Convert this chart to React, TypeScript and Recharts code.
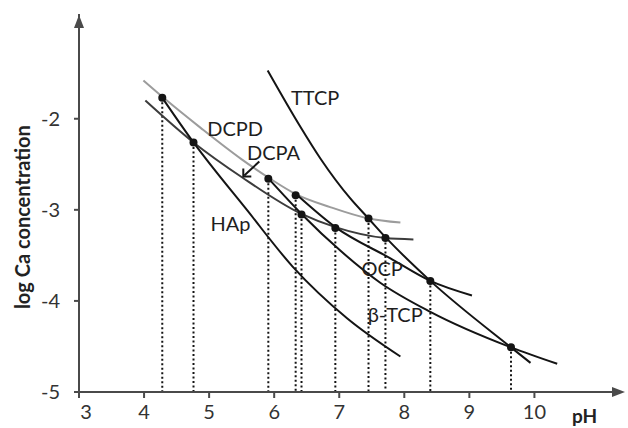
import React from 'react';
import {
  ComposedChart,
  Line,
  Scatter,
  XAxis,
  YAxis,
  ReferenceLine,
  ReferenceDot,
} from 'recharts';

type Pt = { ph: number; ca: number };

// solubility isotherms (pH, log[Ca])
const dcpd: Pt[] = [
  { ph: 3.99, ca: -1.58 },
  { ph: 4.3, ca: -1.77 },
  { ph: 4.87, ca: -2.1 },
  { ph: 5.49, ca: -2.44 },
  { ph: 5.91, ca: -2.645 },
  { ph: 6.34, ca: -2.83 },
  { ph: 6.86, ca: -2.97 },
  { ph: 7.45, ca: -3.095 },
  { ph: 7.94, ca: -3.14 },
];
const dcpa: Pt[] = [
  { ph: 4.02, ca: -1.8 },
  { ph: 4.76, ca: -2.26 },
  { ph: 5.51, ca: -2.645 },
  { ph: 6.42, ca: -3.045 },
  { ph: 6.94, ca: -3.19 },
  { ph: 7.71, ca: -3.31 },
  { ph: 8.14, ca: -3.325 },
];
const hap: Pt[] = [
  { ph: 4.28, ca: -1.77 },
  { ph: 4.76, ca: -2.26 },
  { ph: 5.59, ca: -3.01 },
  { ph: 6.28, ca: -3.62 },
  { ph: 7.12, ca: -4.19 },
  { ph: 7.94, ca: -4.61 },
];
const ttcp: Pt[] = [
  { ph: 5.9, ca: -1.47 },
  { ph: 6.4, ca: -2.085 },
  { ph: 6.71, ca: -2.436 },
  { ph: 7.17, ca: -2.875 },
  { ph: 7.45, ca: -3.095 },
  { ph: 7.71, ca: -3.3 },
  { ph: 8.4, ca: -3.78 },
  { ph: 9.64, ca: -4.51 },
  { ph: 9.94, ca: -4.68 },
];
const ocp: Pt[] = [
  { ph: 6.34, ca: -2.83 },
  { ph: 6.94, ca: -3.19 },
  { ph: 7.78, ca: -3.53 },
  { ph: 8.4, ca: -3.78 },
  { ph: 9.04, ca: -3.94 },
];
const btcp: Pt[] = [
  { ph: 5.91, ca: -2.655 },
  { ph: 6.42, ca: -3.045 },
  { ph: 7.02, ca: -3.45 },
  { ph: 7.63, ca: -3.8 },
  { ph: 8.4, ca: -4.12 },
  { ph: 9.64, ca: -4.51 },
  { ph: 10.35, ca: -4.69 },
];

// singular points (intersections)
const singular: Pt[] = [
  { ph: 4.28, ca: -1.77 },
  { ph: 4.76, ca: -2.26 },
  { ph: 5.91, ca: -2.66 },
  { ph: 6.33, ca: -2.84 },
  { ph: 6.42, ca: -3.05 },
  { ph: 6.94, ca: -3.2 },
  { ph: 7.45, ca: -3.095 },
  { ph: 7.71, ca: -3.31 },
  { ph: 8.4, ca: -3.78 },
  { ph: 9.64, ca: -4.51 },
];

const curveNames = ['TTCP', 'DCPD', 'DCPA', 'HAp', 'OCP', 'β-TCP'];
const namePH = [6.63, 5.4, 5.99, 5.33, 7.66, 7.86];
const nameCa = [-1.76, -2.1, -2.37, -3.14, -3.64, -4.14];

const xTicks = [3, 4, 5, 6, 7, 8, 9, 10];
const yTicks = [-5, -4, -3, -2];

const FONT = 'Lato, "Open Sans", sans-serif';
const INK = '#141414';
const AXIS = '#4a4a4a';

const curves = [
  { key: 'DCPD', data: dcpd, color: '#9c9c9c' },
  { key: 'DCPA', data: dcpa, color: '#3c3c3c' },
  { key: 'HAp', data: hap, color: INK },
  { key: 'TTCP', data: ttcp, color: INK },
  { key: 'OCP', data: ocp, color: INK },
  { key: 'bTCP', data: btcp, color: INK },
];

const XTick = (p: any) => (
  <text
    x={p.x + (p.payload.value === 3 ? 7 : 0)}
    y={p.y}
    dy="0.75em"
    textAnchor="middle"
    fontSize={20}
    fontFamily={FONT}
    fill="#333"
  >
    {p.payload.value}
  </text>
);

const textAt = (txt: string, size: number, bold = false, angle = 0) => (p: any) => (
  <text
    x={p.cx}
    y={p.cy}
    textAnchor="middle"
    dominantBaseline="central"
    fontSize={size}
    fontWeight={bold ? 700 : 400}
    fontFamily={FONT}
    fill={bold ? '#222' : '#1e1e1e'}
    transform={angle ? `rotate(${angle} ${p.cx} ${p.cy})` : undefined}
  >
    {txt}
  </text>
);

const arrowRight = (p: any) => (
  <polygon
    points={`${p.cx + 6},${p.cy} ${p.cx - 7},${p.cy - 5} ${p.cx - 7},${p.cy + 5}`}
    fill={AXIS}
  />
);
const arrowUp = (p: any) => (
  <polygon
    points={`${p.cx},${p.cy + 1} ${p.cx - 5},${p.cy + 14} ${p.cx + 5},${p.cy + 14}`}
    fill={AXIS}
  />
);
// small pointer from the DCPA label to its curve
const pointer = (p: any) => (
  <g stroke={INK} strokeWidth={2} fill="none">
    <line x1={p.cx + 17} y1={p.cy - 16} x2={p.cx + 2} y2={p.cy - 2} />
    <polyline points={`${p.cx + 1},${p.cy - 9} ${p.cx + 1},${p.cy - 1} ${p.cx + 9},${p.cy - 1}`} />
  </g>
);

export default function App() {
  return (
    <div style={{ position: 'absolute', left: 0, top: 0, background: '#fff' }}>
      <ComposedChart
        width={628}
        height={428}
        margin={{ top: 14, right: 9, bottom: 0, left: 0 }}
      >
        <XAxis
          dataKey="ph"
          type="number"
          domain={[3, 11.3]}
          ticks={xTicks}
          allowDataOverflow
          height={36}
          axisLine={{ stroke: AXIS, strokeWidth: 2 }}
          tickLine={{ stroke: AXIS, strokeWidth: 2 }}
          tickSize={6}
          tickMargin={6}
          tick={<XTick />}
        />
        <YAxis
          type="number"
          domain={[-5, -0.85]}
          ticks={yTicks}
          allowDataOverflow
          width={79}
          axisLine={{ stroke: AXIS, strokeWidth: 2 }}
          tickLine={{ stroke: AXIS, strokeWidth: 2 }}
          tickSize={5}
          tickMargin={14}
          tick={{ fontSize: 20, fill: '#333', fontFamily: FONT }}
        />

        {singular.map((s, i) => (
          <ReferenceLine
            key={`v${i}`}
            segment={[
              { x: s.ph, y: s.ca },
              { x: s.ph, y: -5 },
            ]}
            stroke={INK}
            strokeWidth={2}
            strokeDasharray="2 2.5"
          />
        ))}

        {curves.map((c) => (
          <Line
            key={c.key}
            data={c.data}
            dataKey="ca"
            type="monotone"
            stroke={c.color}
            strokeWidth={2}
            dot={false}
            activeDot={false}
            isAnimationActive={false}
          />
        ))}

        <Scatter
          data={singular}
          dataKey="ca"
          isAnimationActive={false}
          shape={(p: any) => <circle cx={p.cx} cy={p.cy} r={4} fill={INK} />}
        />

        {curveNames.map((n, i) => (
          <ReferenceDot
            key={n}
            x={namePH[i]}
            y={nameCa[i]}
            r={0}
            ifOverflow="visible"
            shape={textAt(n, 20)}
          />
        ))}
        <ReferenceDot x={5.51} y={-2.645} r={0} ifOverflow="visible" shape={pointer} />

        <ReferenceDot x={11.3} y={-5} r={0} ifOverflow="visible" shape={arrowRight} />
        <ReferenceDot x={3} y={-0.85} r={0} ifOverflow="visible" shape={arrowUp} />

        <ReferenceDot x={10.77} y={-5.26} r={0} ifOverflow="visible" shape={textAt('pH', 19, true)} />
        <ReferenceDot
          x={2.13}
          y={-3.08}
          r={0}
          ifOverflow="visible"
          shape={textAt('log Ca concentration', 20, true, -90)}
        />
      </ComposedChart>
    </div>
  );
}
